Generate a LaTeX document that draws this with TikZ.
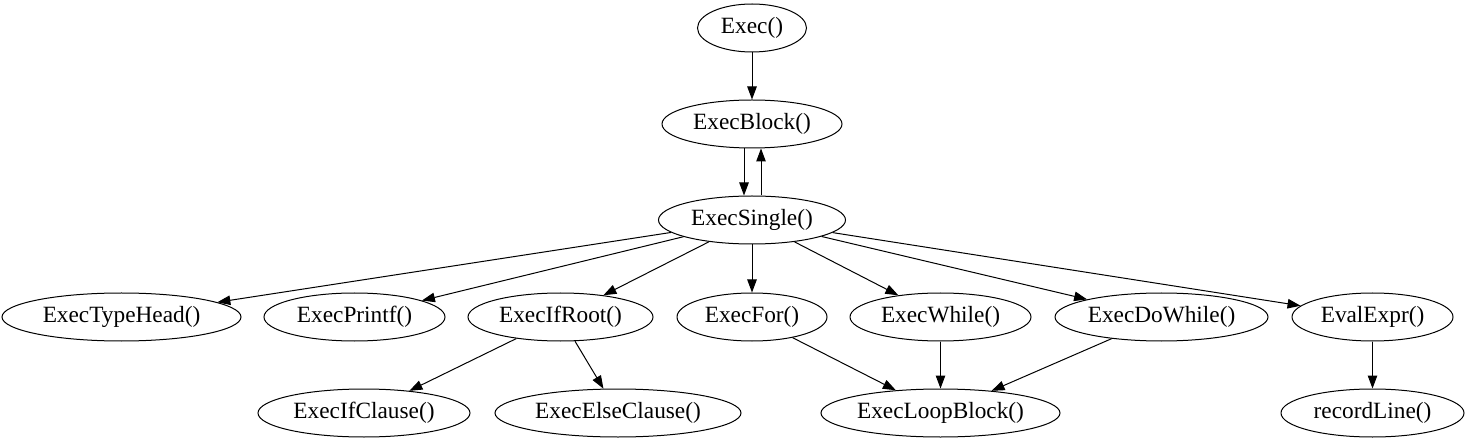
\documentclass[tikz,border=0pt]{standalone}
\usepackage{fontspec}
\setmainfont{Liberation Serif}
\usetikzlibrary{shapes.geometric,arrows.meta}
\begin{document}
\begin{tikzpicture}[x=1bp,y=-1bp,
  fn/.style={draw,ellipse,line width=1bp,inner sep=0pt,minimum height=48bp,
    font=\fontsize{23.3bp}{27bp}\selectfont},
  edge/.style={line width=1bp,-{Triangle[length=13bp,width=9.5bp]}}]
\useasboundingbox (0,0) rectangle (1470,443);
\node[fn,minimum width=109bp] (exec) at (752,28) {Exec()};
\node[fn,minimum width=180bp] (block) at (752,124) {ExecBlock()};
\node[fn,minimum width=187bp] (single) at (752,220) {ExecSingle()};
\node[fn,minimum width=239bp] (typehead) at (121.5,317) {ExecTypeHead()};
\node[fn,minimum width=181bp] (printf) at (354.5,317) {ExecPrintf()};
\node[fn,minimum width=185bp] (ifroot) at (560.5,317) {ExecIfRoot()};
\node[fn,minimum width=150bp] (for) at (752,317) {ExecFor()};
\node[fn,minimum width=181bp] (while) at (940.5,317) {ExecWhile()};
\node[fn,minimum width=213bp] (dowhile) at (1161.5,317) {ExecDoWhile()};
\node[fn,minimum width=161bp] (evalexpr) at (1372.5,317) {EvalExpr()};
\node[fn,minimum width=212bp] (ifclause) at (364,413) {ExecIfClause()};
\node[fn,minimum width=246bp] (elseclause) at (618,413) {ExecElseClause()};
\node[fn,minimum width=239bp] (loopblock) at (940.5,413) {ExecLoopBlock()};
\node[fn,minimum width=183bp] (recordline) at (1372.5,413) {recordLine()};
\draw[edge] (exec) -- (block);
\draw[edge] ([xshift=-8bp]block.south) -- ([xshift=-8bp]single.north);
\draw[edge] ([xshift=9bp]single.north) -- ([xshift=9bp]block.south);
\draw[edge] (single) -- (typehead);
\draw[edge] (single) -- (printf);
\draw[edge] (single) -- (ifroot);
\draw[edge] (single) -- (for);
\draw[edge] (single) -- (while);
\draw[edge] (single) -- (dowhile);
\draw[edge] (single) -- (evalexpr);
\draw[edge] (ifroot) -- (ifclause);
\draw[edge] (ifroot) -- (elseclause);
\draw[edge] (for) -- (loopblock);
\draw[edge] (while) -- (loopblock);
\draw[edge] (dowhile) -- (loopblock);
\draw[edge] (evalexpr) -- (recordline);
\end{tikzpicture}
\end{document}
